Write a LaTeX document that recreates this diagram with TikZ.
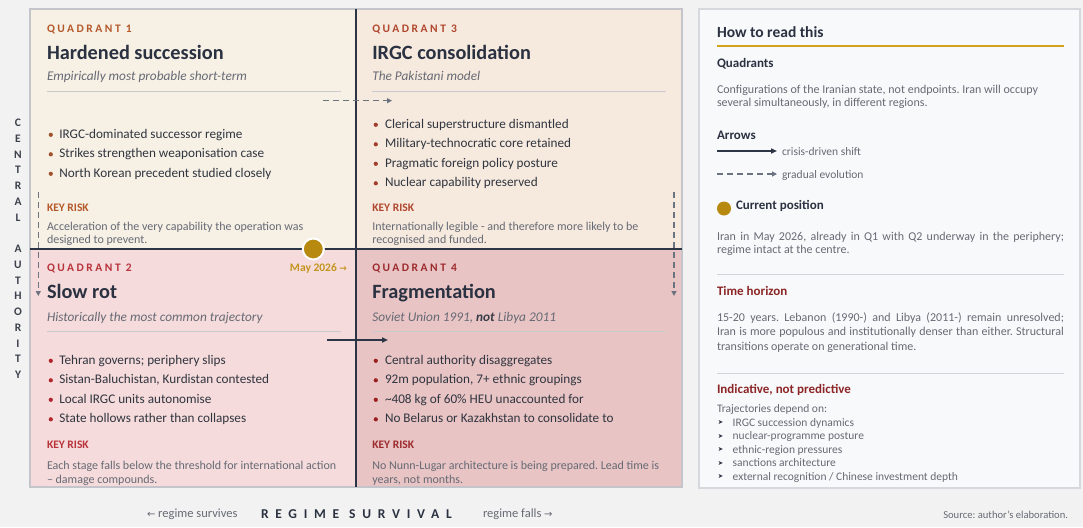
\documentclass[tikz,border=0pt]{standalone}
\usepackage{fontspec}
\setmainfont{Carlito}
\newfontfamily\symfont{DejaVu Sans}
\usetikzlibrary{arrows.meta}
\frenchspacing
\definecolor{bgc}{HTML}{F3F2F2}
\definecolor{outerc}{HTML}{C4C5CA}
\definecolor{qa}{HTML}{F6F0E5}
\definecolor{qc}{HTML}{F6E9DE}
\definecolor{qb}{HTML}{F5DBDB}
\definecolor{qd}{HTML}{E8C4C5}
\definecolor{divc}{HTML}{2C3545}
\definecolor{titlec}{HTML}{2A3140}
\definecolor{bodyc}{HTML}{30353F}
\definecolor{grayc}{HTML}{666A74}
\definecolor{sepc}{HTML}{C9CACF}
\definecolor{labA}{HTML}{B5582A}
\definecolor{labC}{HTML}{B0472E}
\definecolor{labB}{HTML}{B8333B}
\definecolor{labD}{HTML}{9C2B2D}
\definecolor{dotA}{HTML}{A0522D}
\definecolor{dotC}{HTML}{A13D2D}
\definecolor{dotB}{HTML}{B0262E}
\definecolor{dotD}{HTML}{9A2020}
\definecolor{goldc}{HTML}{B8890F}
\definecolor{goldt}{HTML}{C3951F}
\definecolor{goldline}{HTML}{D4A31C}
\definecolor{panelc}{HTML}{F8F9FB}
\definecolor{panelb}{HTML}{D6D8DD}
\definecolor{panelsep}{HTML}{D3D4D8}
\definecolor{redh}{HTML}{8C2626}
\definecolor{arrgray}{HTML}{6B7280}
\definecolor{axisc}{HTML}{3B404B}
\newcommand\jlineX[1]{\makebox[347pt][s]{#1}}
\begin{document}
\begin{tikzpicture}[x=1pt,y=-1pt,
 tx/.style={anchor=base west,inner sep=0pt,outer sep=0pt},
 qlabel/.style={tx,font=\bfseries\fontsize{11.5}{13}\selectfont\addfontfeatures{LetterSpace=22}},
 qtitle/.style={tx,text=titlec,font=\bfseries\fontsize{20.3}{24}\selectfont},
 qsub/.style={tx,text=grayc,font=\itshape\fontsize{13.3}{15}\selectfont},
 qbul/.style={tx,text=bodyc,font=\fontsize{13.2}{15}\selectfont},
 qrisk/.style={tx,font=\bfseries\fontsize{11.5}{13}\selectfont},
 qrtext/.style={tx,text=grayc,font=\fontsize{12}{14}\selectfont},
 dot/.style={circle,inner sep=0pt,minimum size=4.2pt},
 sepline/.style={draw=sepc,line width=0.8pt},
 psep/.style={draw=panelsep,line width=1.2pt},
 gradual/.style={draw=arrgray,line width=1.4pt,dash pattern=on 6pt off 4pt,-{Triangle[length=5pt,width=5pt]}},
 crisis/.style={draw=divc,line width=1.8pt,-{Triangle[length=6pt,width=5pt]}},
 phead/.style={tx,text=titlec,font=\bfseries\fontsize{13}{15}\selectfont},
 ptext/.style={tx,text=grayc,font=\fontsize{12}{14}\selectfont},
 plist/.style={tx,text=grayc,font=\fontsize{11.5}{13}\selectfont},
 axisl/.style={inner sep=0pt,text=axisc,font=\bfseries\fontsize{11.5}{13}\selectfont},
]
\useasboundingbox[fill=bgc] (0,0) rectangle (1083,527);

% quadrant fills
\fill[qa] (30,9) rectangle (356,249);
\fill[qc] (356,9) rectangle (682,249);
\fill[qb] (30,249) rectangle (356,487);
\fill[qd] (356,249) rectangle (682,487);
\draw[outerc,line width=1.5pt] (30,9) rectangle (682,487);
\draw[divc,line width=1.6pt] (356,9) -- (356,487);
\draw[divc,line width=1.6pt] (30,249) -- (682,249);

% ---------- Quadrant 1
\node[qlabel,text=labA] (q1lab) at (47,32.7) {QUADRANT 1};
\node[qtitle] (q1title) at (47,59.3) {Hardened succession};
\node[qsub] (q1sub) at (47,80.7) {Empirically most probable short-term};
\draw[sepline] (47,91.7) -- (341,91.7);
\foreach \t [count=\i] in {IRGC-dominated successor regime, Strikes strengthen weaponisation case, North Korean precedent studied closely}{
  \node[qbul] (q1b\i) at (59.3,{138.3+(\i-1)*19.5}) {\t};
  \node[dot,fill=dotA] (q1d\i) at (50.8,{134.8+(\i-1)*19.5}) {};
}
\node[qrisk,text=labA] (q1k) at (47,211.7) {KEY RISK};
\node[qrtext] (q1r1) at (47,230.5) {Acceleration of the very capability the operation was};
\node[qrtext] (q1r2) at (47,243.5) {designed to prevent.};

% ---------- Quadrant 3
\node[qlabel,text=labC] (q3lab) at (372.3,32.7) {QUADRANT 3};
\node[qtitle] (q3title) at (372.3,59.3) {IRGC consolidation};
\node[qsub] (q3sub) at (372.3,80.7) {The Pakistani model};
\draw[sepline] (372.3,91.7) -- (666,91.7);
\foreach \t [count=\i] in {Clerical superstructure dismantled, Military-technocratic core retained, Pragmatic foreign policy posture, Nuclear capability preserved}{
  \node[qbul] (q3b\i) at (385,{128.3+(\i-1)*19.5}) {\t};
  \node[dot,fill=dotC] (q3d\i) at (375.8,{124.8+(\i-1)*19.5}) {};
}
\node[qrisk,text=labC] (q3k) at (372.3,211.7) {KEY RISK};
\node[qrtext] (q3r1) at (372.3,230.5) {Internationally legible - and therefore more likely to be};
\node[qrtext] (q3r2) at (372.3,243.5) {recognised and funded.};

% ---------- Quadrant 2
\node[qlabel,text=labB] (q2lab) at (47,271) {QUADRANT 2};
\node[tx,anchor=base east,text=goldt,font=\bfseries\fontsize{11.5}{13}\selectfont] (may) at (347,271) {May 2026 {\symfont\fontsize{9}{10}\selectfont →}};
\node[qtitle] (q2title) at (47,298.3) {Slow rot};
\node[qsub] (q2sub) at (47,321.7) {Historically the most common trajectory};
\draw[sepline] (47,331.7) -- (341,331.7);
\foreach \t [count=\i] in {Tehran governs; periphery slips, {Sistan-Baluchistan, Kurdistan contested}, Local IRGC units autonomise, State hollows rather than collapses}{
  \node[qbul] (q2b\i) at (59.3,{364.3+(\i-1)*19.5}) {\t};
  \node[dot,fill=dotB] (q2d\i) at (50.8,{360.8+(\i-1)*19.5}) {};
}
\node[qrisk,text=labB] (q2k) at (47,448.3) {KEY RISK};
\node[qrtext] (q2r1) at (47,469) {Each stage falls below the threshold for international action};
\node[qrtext] (q2r2) at (47,483) {– damage compounds.};

% ---------- Quadrant 4
\node[qlabel,text=labD] (q4lab) at (372.3,271) {QUADRANT 4};
\node[qtitle] (q4title) at (372.3,298.3) {Fragmentation};
\node[qsub] (q4sub) at (372.3,321.7) {Soviet Union 1991, {\bfseries\color{bodyc!85!grayc}not} Libya 2011};
\draw[sepline] (372.3,331.7) -- (666,331.7);
\foreach \t [count=\i] in {Central authority disaggregates, {92m population, 7+ ethnic groupings}, \textasciitilde{}408 kg of 60\% HEU unaccounted for, No Belarus or Kazakhstan to consolidate to}{
  \node[qbul] (q4b\i) at (385,{364.3+(\i-1)*19.5}) {\t};
  \node[dot,fill=dotD] (q4d\i) at (375.8,{360.8+(\i-1)*19.5}) {};
}
\node[qrisk,text=labD] (q4k) at (372.3,448.3) {KEY RISK};
\node[qrtext] (q4r1) at (372.3,469) {No Nunn-Lugar architecture is being prepared. Lead time is};
\node[qrtext] (q4r2) at (372.3,483) {years, not months.};

% ---------- arrows in the matrix
\coordinate (g1s) at (323,100.7); \coordinate (g1e) at (392,100.7);
\draw[gradual] (g1s) -- (g1e);
\coordinate (g2s) at (38.3,192); \coordinate (g2e) at (38.3,296);
\draw[gradual] (g2s) -- (g2e);
\coordinate (g3s) at (674,192); \coordinate (g3e) at (674,296);
\draw[gradual] (g3s) -- (g3e);
\coordinate (c1s) at (327,340); \coordinate (c1e) at (388,340);
\draw[crisis] (c1s) -- (c1e);
\node[circle,fill=goldc,draw=white,line width=2pt,minimum size=21pt,inner sep=0pt] (cur) at (313.3,249) {};

% ---------- vertical axis
\foreach \ch [count=\i] in {C,E,N,T,R,A,L,{},A,U,T,H,O,R,I,T,Y}{
  \node[axisl] (ax\i) at (18,{123+(\i-1)*15.75}) {\ch};
}

% ---------- bottom axis
\node[tx,text=grayc,font=\fontsize{12.5}{14}\selectfont] (lsurv) at (147,517.5) {{\symfont\fontsize{10}{11}\selectfont ←} regime survives};
\node[tx,text=titlec,font=\bfseries\fontsize{13.5}{15}\selectfont\addfontfeatures{LetterSpace=50}] (axx) at (261,518.5) {REGIME SURVIVAL};
\node[tx,text=grayc,font=\fontsize{12.5}{14}\selectfont] (lfall) at (483,517.5) {regime falls {\symfont\fontsize{10}{11}\selectfont →}};
\node[tx,anchor=base east,text=grayc,font=\fontsize{10.6}{12}\selectfont] (src) at (1068,518) {Source: author's elaboration.};

% ---------- right panel
\draw[fill=panelc,draw=panelb,line width=1.2pt] (699,9) rectangle (1080,488);
\node[tx,text=titlec,font=\bfseries\fontsize{15.5}{18}\selectfont] (howto) at (717,37.7) {How to read this};
\draw[goldline,line width=1.2pt] (717,46) -- (1064,46);
\node[phead] (pq) at (717,67.3) {Quadrants};
\node[ptext] (pq1) at (717,93.3) {Configurations of the Iranian state, not endpoints. Iran will occupy};
\node[ptext] (pq2) at (717,106.7) {several simultaneously, in different regions.};
\node[phead] (pa) at (717,139) {Arrows};
\coordinate (la1) at (717,151); \coordinate (la2) at (777,151);
\draw[crisis] (la1) -- (la2);
\node[plist] (lat1) at (782,155.5) {crisis-driven shift};
\coordinate (lb1) at (717,174); \coordinate (lb2) at (777,174);
\draw[gradual] (lb1) -- (lb2);
\node[plist] (lat2) at (782,178) {gradual evolution};
\node[circle,fill=goldc,minimum size=14pt,inner sep=0pt] (lcur) at (724,208.5) {};
\node[phead] (pc) at (736,209) {Current position};
\node[ptext] (pc1) at (717,240) {\jlineX{Iran in May 2026, already in Q1 with Q2 underway in the periphery;}};
\node[ptext] (pc2) at (717,253.3) {regime intact at the centre.};
\draw[psep] (717,274.3) -- (1064,274.3);
\node[phead,text=redh] (pt) at (717,295) {Time horizon};
\node[ptext] (pt1) at (717,321.7) {\jlineX{15-20 years. Lebanon (1990-) and Libya (2011-) remain unresolved;}};
\node[ptext] (pt2) at (717,335.7) {\jlineX{Iran is more populous and institutionally denser than either. Structural}};
\node[ptext] (pt3) at (717,350) {transitions operate on generational time.};
\draw[psep] (717,373.3) -- (1064,373.3);
\node[phead,text=redh] (pi) at (717,393.3) {Indicative, not predictive};
\node[plist] (pi0) at (717,412) {Trajectories depend on:};
\foreach \t [count=\i] in {IRGC succession dynamics, nuclear-programme posture, ethnic-region pressures, sanctions architecture, external recognition / Chinese investment depth}{
  \node[plist] (pl\i) at (732.7,{426+(\i-1)*13.5}) {\t};
  \node[inner sep=0pt,text=titlec,font=\symfont\fontsize{6.5}{7}\selectfont] (pm\i) at (720.5,{422.5+(\i-1)*13.5}) {➤};
}
\end{tikzpicture}
\end{document}
